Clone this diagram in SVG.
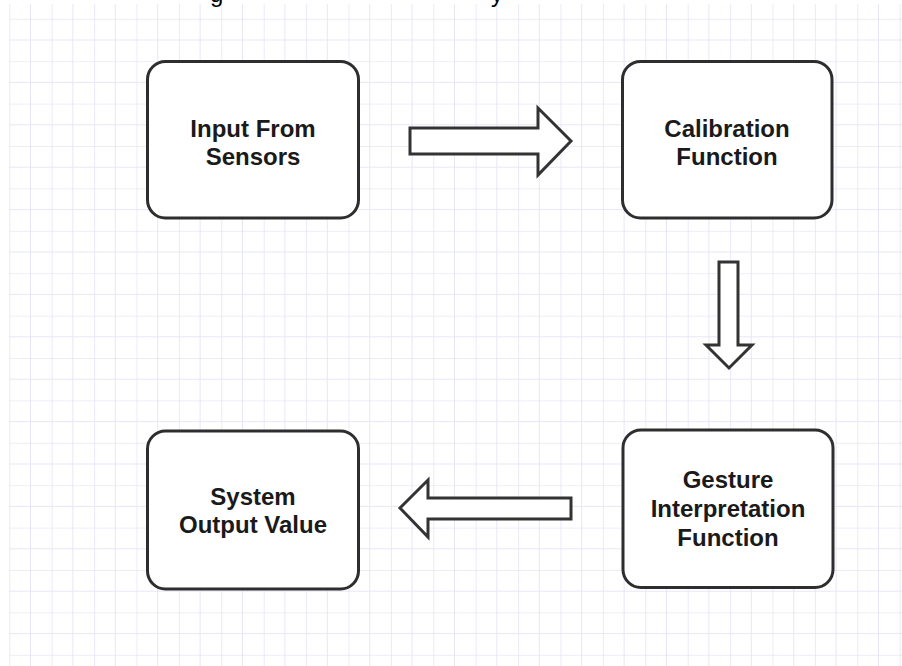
<svg xmlns="http://www.w3.org/2000/svg" width="902" height="666" viewBox="0 0 902 666">
  <defs>
    <pattern id="grid" x="9.3" y="18.8" width="42.4" height="42.4" patternUnits="userSpaceOnUse">
      <line x1="0" y1="0" x2="0" y2="42.4" stroke="#dcdcf6" stroke-width="1.2"/>
      <line x1="21.2" y1="0" x2="21.2" y2="42.4" stroke="#e6e6f9" stroke-width="1"/>
      <line x1="0" y1="0" x2="42.4" y2="0" stroke="#dcdcf6" stroke-width="1.2"/>
      <line x1="0" y1="21.2" x2="42.4" y2="21.2" stroke="#e6e6f9" stroke-width="1"/>
    </pattern>
  </defs>
  <style>
    .box { fill: #ffffff; stroke: #2e2e2e; stroke-width: 3; }
    .arrow { fill: #ffffff; stroke: #333333; stroke-width: 3; stroke-linejoin: miter; }
    .lbl { font-family: "Liberation Sans", Arial, sans-serif; font-size: 24px; font-weight: bold; fill: #1a1a1a; text-anchor: middle; }
    .top { font-family: "Liberation Sans", Arial, sans-serif; font-size: 24px; fill: #000000; }
  </style>
  <rect x="0" y="0" width="902" height="666" fill="#ffffff"/>
  <rect x="9" y="4" width="893" height="662" fill="url(#grid)"/>

  <text class="top" x="210" y="2">g</text>
  <text class="top" x="491" y="2">y</text>

  <g id="connectors">
    <path class="arrow" d="M410,128 L538,128 L538,108 L571,141 L538,175 L538,154 L410,154 Z"/>
    <path class="arrow" d="M719,262 L738,262 L738,345 L752,345 L729,368 L706,345 L719,345 Z"/>
    <path class="arrow" d="M571,498 L428,498 L428,480 L400,508 L428,537 L428,519 L571,519 Z"/>
  </g>

  <g id="input">
    <rect class="box" x="147.5" y="61.5" width="211" height="156.5" rx="18" ry="18"/>
    <text class="lbl" x="253" y="137">Input From</text>
    <text class="lbl" x="253" y="165">Sensors</text>
  </g>

  <g id="calibration">
    <rect class="box" x="622.5" y="61.5" width="209.5" height="156.5" rx="18" ry="18"/>
    <text class="lbl" x="727" y="137">Calibration</text>
    <text class="lbl" x="727" y="165">Function</text>
  </g>

  <g id="gesture">
    <rect class="box" x="623" y="430" width="210" height="157.5" rx="18" ry="18"/>
    <text class="lbl" x="728" y="488">Gesture</text>
    <text class="lbl" x="728" y="517">Interpretation</text>
    <text class="lbl" x="728" y="546">Function</text>
  </g>

  <g id="output">
    <rect class="box" x="147.5" y="431" width="211" height="158" rx="18" ry="18"/>
    <text class="lbl" x="253" y="505">System</text>
    <text class="lbl" x="253" y="533">Output Value</text>
  </g>
</svg>
